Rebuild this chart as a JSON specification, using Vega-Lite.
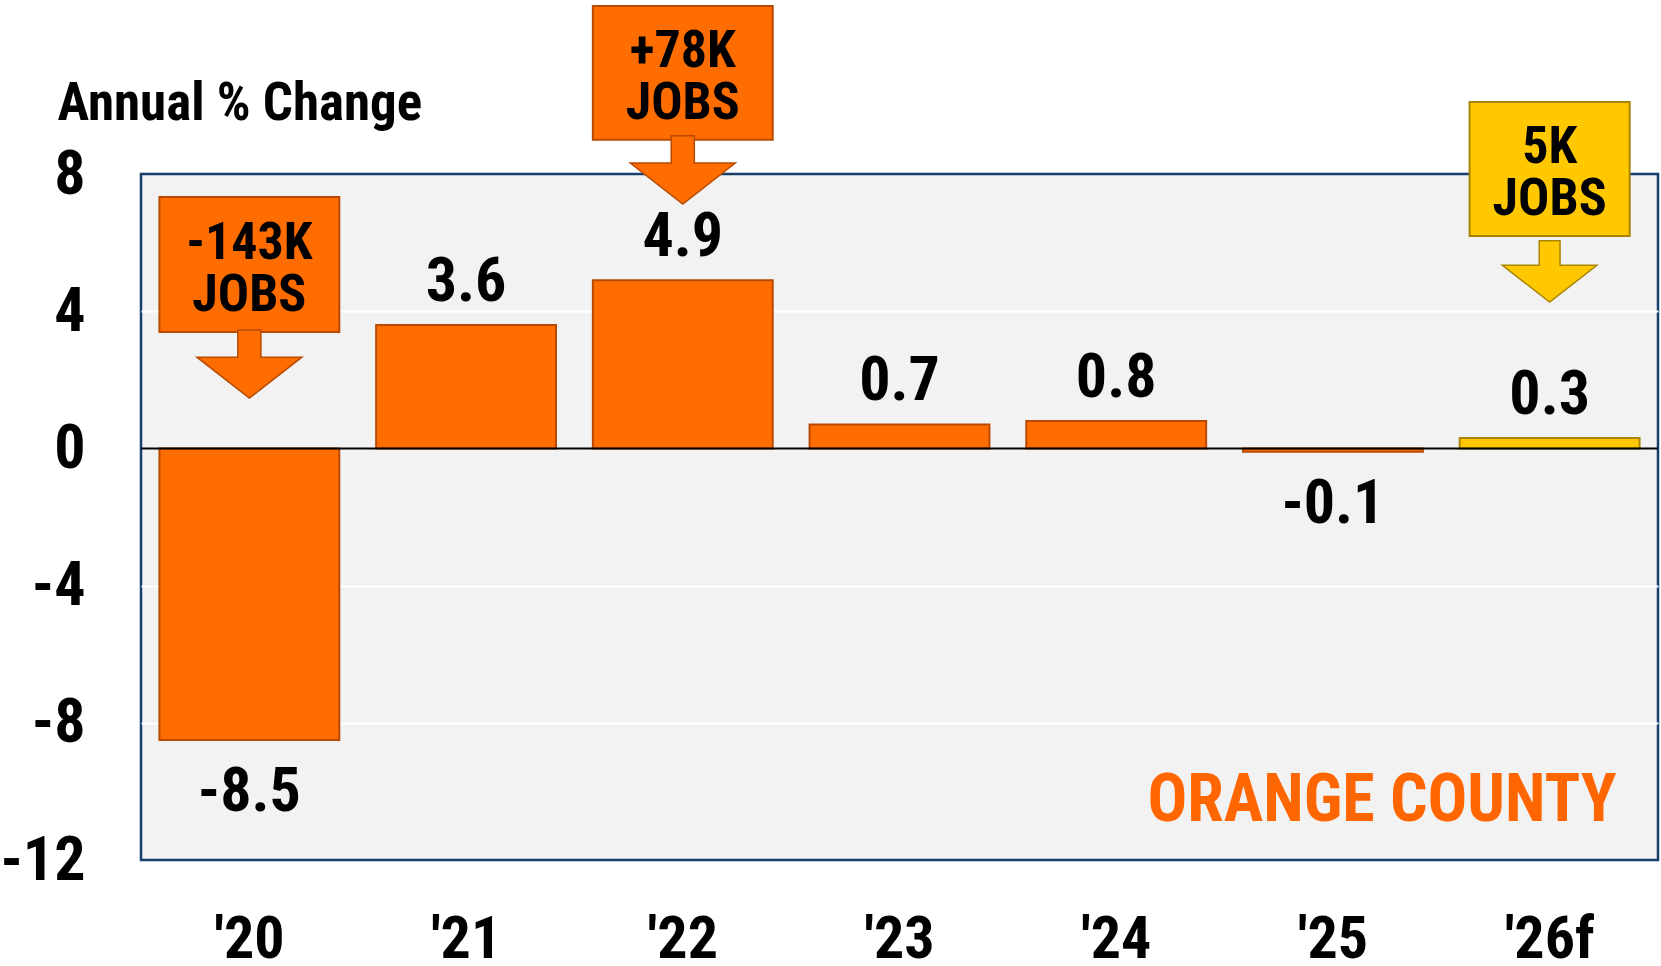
{
  "$schema": "https://vega.github.io/schema/vega-lite/v6.json",
  "width": 1517,
  "height": 686,
  "autosize": "none",
  "padding": {"left": 141, "top": 174, "right": 3, "bottom": 106},
  "background": "white",
  "config": {
    "view": {"fill": "#F2F2F2", "stroke": "#173F6E", "strokeWidth": 2.5},
    "font": "'Arial Narrow', 'Roboto Condensed', 'Noto Sans Condensed', 'Open Sans Condensed', 'DejaVu Sans Condensed', 'Liberation Sans', sans-serif",
    "text": {"font": "'Arial Narrow', 'Roboto Condensed', 'Noto Sans Condensed', 'Open Sans Condensed', 'DejaVu Sans Condensed', 'Liberation Sans', sans-serif", "fontWeight": "bold"}
  },
  "datasets": {
    "bars": [
      {"year": "'20", "value": -8.5, "kind": "actual"},
      {"year": "'21", "value": 3.6, "kind": "actual"},
      {"year": "'22", "value": 4.9, "kind": "actual"},
      {"year": "'23", "value": 0.7, "kind": "actual"},
      {"year": "'24", "value": 0.8, "kind": "actual"},
      {"year": "'25", "value": -0.1, "kind": "actual"},
      {"year": "'26f", "value": 0.3, "kind": "forecast"}
    ],
    "callouts": [
      {"year": "'20", "top": 7.33, "bottom": 3.39, "arrow": 2.46, "label": "-143K\nJOBS", "kind": "actual"},
      {"year": "'22", "top": 12.9, "bottom": 9.0, "arrow": 8.12, "label": "+78K\nJOBS", "kind": "actual"},
      {"year": "'26f", "top": 10.1, "bottom": 6.19, "arrow": 5.16, "label": "5K\nJOBS", "kind": "forecast"}
    ]
  },
  "layer": [
    {
      "data": {"name": "bars"},
      "mark": {"type": "bar", "strokeWidth": 2},
      "encoding": {
        "x": {
          "field": "year", "type": "nominal", "sort": null,
          "scale": {"domain": ["'20", "'21", "'22", "'23", "'24", "'25", "'26f"], "paddingInner": 0.17, "paddingOuter": 0.085},
          "axis": {"title": null, "labelAngle": 0, "labelFontSize": 60, "labelFontWeight": "bold", "labelColor": "black", "labelBaseline": "alphabetic", "labelPadding": 97, "ticks": false, "domain": false}
        },
        "y": {
          "field": "value", "type": "quantitative",
          "scale": {"domain": [-12, 8], "nice": false, "zero": false},
          "axis": {
            "values": [8, 4, 0, -4, -8, -12],
            "labelExpr": "toString(datum.value)",
            "labelFontSize": 62, "labelFontWeight": "bold", "labelColor": "black",
            "labelPadding": 56, "ticks": false, "domain": false,
            "grid": true, "gridWidth": 2,
            "gridColor": {"condition": {"test": "datum.value == 4 || datum.value == -4 || datum.value == -8", "value": "#FFFFFF"}, "value": "transparent"},
            "title": "Annual % Change", "titleAngle": 0, "titleAlign": "left", "titleBaseline": "alphabetic",
            "titleX": -84, "titleY": -55, "titleFontSize": 53, "titleFontWeight": "bold", "titleColor": "black"
          }
        },
        "color": {"field": "kind", "type": "nominal", "scale": {"domain": ["actual", "forecast"], "range": ["#FF6D00", "#FFC800"]}, "legend": null},
        "stroke": {"field": "kind", "type": "nominal", "scale": {"domain": ["actual", "forecast"], "range": ["#B84A00", "#A88400"]}, "legend": null}
      }
    },
    {
      "data": {"values": [{"v": 0}]},
      "mark": {"type": "rule", "color": "black", "strokeWidth": 2},
      "encoding": {"y": {"field": "v", "type": "quantitative"}}
    },
    {
      "data": {"name": "bars"},
      "transform": [{"filter": "datum.value >= 0"}],
      "mark": {"type": "text", "fontSize": 62, "fontWeight": "bold", "baseline": "alphabetic", "align": "center", "dy": -24, "color": "black"},
      "encoding": {
        "x": {"field": "year", "type": "nominal", "sort": null},
        "y": {"field": "value", "type": "quantitative"},
        "text": {"field": "value", "type": "nominal"}
      }
    },
    {
      "data": {"name": "bars"},
      "transform": [{"filter": "datum.value < 0"}],
      "mark": {"type": "text", "fontSize": 62, "fontWeight": "bold", "baseline": "alphabetic", "align": "center", "dy": 71, "color": "black"},
      "encoding": {
        "x": {"field": "year", "type": "nominal", "sort": null},
        "y": {"field": "value", "type": "quantitative"},
        "text": {"field": "value", "type": "nominal"}
      }
    },
    {
      "data": {"name": "callouts"},
      "transform": [{"filter": "datum.kind == 'actual'"}],
      "mark": {"type": "bar", "strokeWidth": 2, "fill": "#FF6D00", "stroke": "#B84A00"},
      "encoding": {
        "x": {"field": "year", "type": "nominal", "sort": null},
        "y": {"field": "top", "type": "quantitative"},
        "y2": {"field": "bottom"}
      }
    },
    {
      "data": {"name": "callouts"},
      "transform": [{"filter": "datum.kind == 'forecast'"}],
      "mark": {"type": "bar", "strokeWidth": 2, "fill": "#FFC800", "stroke": "#A88400", "width": {"band": 0.89}},
      "encoding": {
        "x": {"field": "year", "type": "nominal", "sort": null},
        "y": {"field": "top", "type": "quantitative"},
        "y2": {"field": "bottom"}
      }
    },
    {
      "data": {"name": "callouts"},
      "transform": [{"filter": "datum.kind == 'actual'"}],
      "mark": {"type": "point", "filled": true, "opacity": 1, "size": 11025, "fill": "#FF6D00", "stroke": "#B84A00", "strokeWidth": 1.5,
        "shape": "M-0.22,-0.65 L0.22,-0.65 L0.22,-0.13 L1,-0.13 L0,0.65 L-1,-0.13 L-0.22,-0.13 Z"},
      "encoding": {
        "x": {"field": "year", "type": "nominal", "sort": null},
        "y": {"field": "arrow", "type": "quantitative"}
      }
    },
    {
      "data": {"name": "callouts"},
      "transform": [{"filter": "datum.kind == 'forecast'"}],
      "mark": {"type": "point", "filled": true, "opacity": 1, "size": 8930, "fill": "#FFC800", "stroke": "#A88400", "strokeWidth": 1.5,
        "shape": "M-0.22,-0.65 L0.22,-0.65 L0.22,-0.13 L1,-0.13 L0,0.65 L-1,-0.13 L-0.22,-0.13 Z"},
      "encoding": {
        "x": {"field": "year", "type": "nominal", "sort": null},
        "y": {"field": "arrow", "type": "quantitative"}
      }
    },
    {
      "data": {"name": "callouts"},
      "mark": {"type": "text", "fontSize": 52, "fontWeight": "bold", "lineBreak": "\n", "lineHeight": 52, "baseline": "alphabetic", "align": "center", "dy": -73, "color": "black"},
      "encoding": {
        "x": {"field": "year", "type": "nominal", "sort": null},
        "y": {"field": "bottom", "type": "quantitative"},
        "text": {"field": "label", "type": "nominal"}
      }
    },
    {
      "data": {"values": [{"year": "'26f", "label": "ORANGE COUNTY"}]},
      "mark": {"type": "text", "fontSize": 66, "fontWeight": "bold", "baseline": "alphabetic", "align": "right", "dx": 67, "color": "#FF6600"},
      "encoding": {
        "x": {"field": "year", "type": "nominal", "sort": null},
        "y": {"datum": -10.86},
        "text": {"field": "label", "type": "nominal"}
      }
    }
  ]
}
